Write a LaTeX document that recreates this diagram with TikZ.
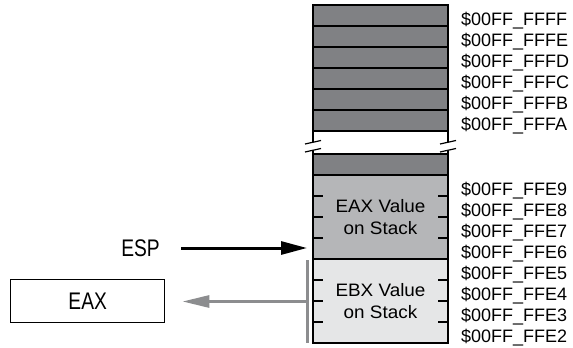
\documentclass[tikz,border=0pt]{standalone}
\usepackage{fontspec}
\setmainfont{Liberation Sans}
\newfontfamily\stackfont{Liberation Sans}[FakeStretch=1.05]
\newfontfamily\regfont{Liberation Sans}[FakeStretch=0.8]
\usetikzlibrary{calc, positioning, arrows.meta}
\definecolor{stackdark}{HTML}{808184}
\definecolor{stackmid}{HTML}{B5B6B8}
\definecolor{stacklight}{HTML}{E5E6E7}
\definecolor{popgray}{HTML}{8C8D8F}

\begin{document}
\begin{tikzpicture}[
    x=1pt, y=-1pt,
    cell/.style={rectangle, draw=black, line width=1.4pt, fill=stackdark, minimum width=135pt, minimum height=21pt, inner sep=0pt, outer sep=0pt},
    valblock/.style={cell, minimum height=84pt, align=center, font=\stackfont\fontsize{18}{21.5}\selectfont},
    addr/.style={anchor=base west, inner sep=0pt, font=\fontsize{18}{21}\selectfont},
    reg/.style={rectangle, draw=black, line width=1.4pt, minimum width=154pt, minimum height=43pt, inner sep=0pt, font=\regfont\fontsize{24}{28}\selectfont},
    rowtick/.style={line width=1.4pt},
    esparrow/.style={-{Triangle[length=26pt, width=13pt]}, line width=3pt, black},
    poparrow/.style={-{Triangle[length=27pt, width=12pt]}, line width=3pt, popgray}
]
    \useasboundingbox (0,0) rectangle (573,348);

    % Upper part of the stack
    \foreach \a [count=\i] in {FFFF,FFFE,FFFD,FFFC,FFFB,FFFA} {
        \node[cell, anchor=north west] (top\i) at (313, {5+21*(\i-1)}) {};
        \node[addr] (adr\a) at ([xshift=13pt, yshift=1pt]top\i.south east) {\$00FF\_\a};
    }

    % Lower part of the stack
    \node[cell, anchor=north west] (topseg) at (313,154) {};
    \node[valblock, fill=stackmid, below=0pt of topseg] (eaxval) {EAX Value\\on Stack};
    \node[valblock, fill=stacklight, below=0pt of eaxval] (ebxval) {EBX Value\\on Stack};
    \foreach \a [count=\i] in {FFE9,FFE8,FFE7,FFE6,FFE5,FFE4,FFE3,FFE2}
        \node[addr] (adr\a) at ([xshift=13pt, yshift={(1-21*\i)*1pt}]eaxval.north east) {\$00FF\_\a};

    % Byte ticks inside the value blocks
    \foreach \blk in {eaxval, ebxval}
        \foreach \k in {1,2,3} {
            \draw[rowtick] ($(\blk.north west)!\k/4!(\blk.south west)$) -- ++(10,0);
            \draw[rowtick] ($(\blk.north east)!\k/4!(\blk.south east)$) -- ++(-10,0);
        }

    % Broken edges between the two parts
    \draw[line width=1.4pt] (top6.south west) -- (topseg.north west) (top6.south east) -- (topseg.north east);
    \foreach \s in {west, east} {
        \coordinate (brk) at ($(top6.south \s)!0.5!(topseg.north \s)$);
        \fill[white] ([shift={(-8,1.5)}]brk) -- ([shift={(8,-2)}]brk) -- ([shift={(8,6)}]brk) -- ([shift={(-8,9.5)}]brk) -- cycle;
        \draw[line width=1.2pt] ([shift={(-8,1.5)}]brk) -- ([shift={(8,-2)}]brk)
            ([shift={(-8,9.5)}]brk) -- ([shift={(8,6)}]brk);
    }

    % Stack pointer
    \node[inner sep=0pt, anchor=east, font=\regfont\fontsize{24}{28}\selectfont] (esp) at (160,248) {ESP};
    \draw[esparrow, shorten <=21pt, shorten >=6pt] (esp.east) -- (esp.east -| eaxval.west);

    % Popped value goes to EAX
    \node[reg, anchor=north west] (eaxreg) at (10,279) {EAX};
    \coordinate (poptop) at ($(ebxval.north west)+(-6,1)$);
    \coordinate (popbot) at ($(ebxval.south west)+(-6,0)$);
    \coordinate (popmid) at ($(poptop)!0.5!(popbot)$);
    \draw[line width=3pt, popgray] (poptop) -- (popbot);
    \draw[poparrow, shorten >=17pt] (popmid) -- (popmid -| eaxreg.east);
\end{tikzpicture}
\end{document}
